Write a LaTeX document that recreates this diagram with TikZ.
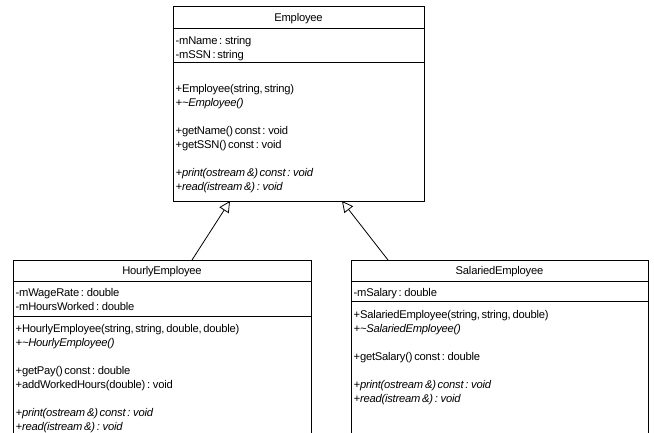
\documentclass[tikz,border=0pt]{standalone}
\usepackage{fontspec}
\setmainfont{Liberation Sans}[LetterSpace=-2, WordSpace=0.6]
\usetikzlibrary{arrows.meta,calc}
\begin{document}
\begin{tikzpicture}[x=1pt,y=-1pt,
  umlbox/.style={draw=black, line width=0.9pt, anchor=north west, inner sep=0pt, outer sep=0pt},
  txt/.style={anchor=base west, inner sep=0pt, font=\fontsize{11.2}{14}\selectfont},
  itxt/.style={anchor=base west, inner sep=0pt, font=\fontsize{11.2}{14}\selectfont\itshape},
  hdr/.style={anchor=base, inner sep=0pt, font=\fontsize{11.2}{14}\selectfont},
  sepline/.style={line width=0.9pt},
  inherit/.style={line width=0.8pt, -{Triangle[open, length=11pt, width=11pt, line width=0.8pt]}}
]
\clip (0,0) rectangle (654,432);
\fill[white] (0,0) rectangle (654,432);

% boxes
\node[umlbox, minimum width=251pt, minimum height=195pt] (emp) at (173,6) {};
\node[umlbox, minimum width=298pt, minimum height=200pt] (hourly) at (13,260) {};
\node[umlbox, minimum width=297pt, minimum height=200pt] (salaried) at (351,260) {};

% compartments
\draw[sepline] ($(emp.north west)+(0,22)$) -- ($(emp.north east)+(0,22)$);
\draw[sepline] ($(emp.north west)+(0,56)$) -- ($(emp.north east)+(0,56)$);
\draw[sepline] ($(hourly.north west)+(0,21)$) -- ($(hourly.north east)+(0,21)$);
\draw[sepline] ($(hourly.north west)+(0,56)$) -- ($(hourly.north east)+(0,56)$);
\draw[sepline] ($(salaried.north west)+(0,21)$) -- ($(salaried.north east)+(0,21)$);
\draw[sepline] ($(salaried.north west)+(0,41.5)$) -- ($(salaried.north east)+(0,41.5)$);

% Employee texts
\node[hdr] (eh) at (298.5,21) {Employee};
\node[txt] (ea1) at (175.5,44) {-mName : string};
\node[txt] (ea2) at (175.5,58) {-mSSN : string};
\node[txt] (eo1) at (175.5,92) {+Employee(string, string)};
\node[itxt] (eo2) at (175.5,106) {+\textasciitilde Employee()};
\node[txt] (eo3) at (175.5,134) {+getName() const : void};
\node[txt] (eo4) at (175.5,148) {+getSSN() const : void};
\node[itxt] (eo5) at (175.5,176) {+print(ostream \&) const : void};
\node[itxt] (eo6) at (175.5,190) {+read(istream \&) : void};

% HourlyEmployee texts
\node[hdr] (hh) at (162,274.5) {HourlyEmployee};
\node[txt] (ha1) at (15.5,296) {-mWageRate : double};
\node[txt] (ha2) at (15.5,310) {-mHoursWorked : double};
\node[txt] (ho1) at (15.5,332) {+HourlyEmployee(string, string, double, double)};
\node[itxt] (ho2) at (15.5,346) {+\textasciitilde HourlyEmployee()};
\node[txt] (ho3) at (15.5,374) {+getPay() const : double};
\node[txt] (ho4) at (15.5,388) {+addWorkedHours(double) : void};
\node[itxt] (ho5) at (15.5,416) {+print(ostream \&) const : void};
\node[itxt] (ho6) at (15.5,430) {+read(istream \&) : void};

% SalariedEmployee texts
\node[hdr] (sh) at (499.5,274.5) {SalariedEmployee};
\node[txt] (sa1) at (353.5,296) {-mSalary : double};
\node[txt] (so1) at (353.5,318) {+SalariedEmployee(string, string, double)};
\node[itxt] (so2) at (353.5,332) {+\textasciitilde SalariedEmployee()};
\node[txt] (so3) at (353.5,360) {+getSalary() const : double};
\node[itxt] (so4) at (353.5,388) {+print(ostream \&) const : void};
\node[itxt] (so5) at (353.5,402) {+read(istream \&) : void};

% generalizations
\draw[inherit] ($(hourly.north west)+(179,0)$) -- ($(emp.south west)+(57,0)$);
\draw[inherit] ($(salaried.north west)+(37,0)$) -- ($(emp.south west)+(169,0)$);
\end{tikzpicture}
\end{document}
